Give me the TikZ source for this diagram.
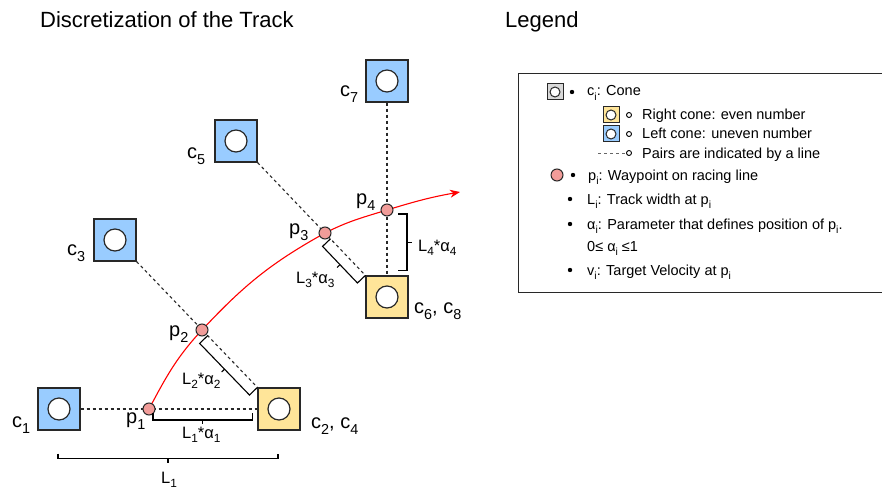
\documentclass[tikz,border=0pt]{standalone}
\usepackage{fontspec}
\setmainfont{Liberation Sans}
\usetikzlibrary{calc,arrows.meta}

\definecolor{leftcone}{RGB}{153,204,255}
\definecolor{rightcone}{RGB}{255,229,153}
\definecolor{waypt}{RGB}{241,156,153}
\definecolor{edge}{RGB}{40,40,40}

% index set lowered at about 70% size
\newcommand\idx[1]{\raisebox{-0.3em}{\scalebox{0.72}{#1}}}

\pgfdeclarelayer{bg}
\pgfsetlayers{bg,main}

\tikzset{
  cone/.style={rectangle, draw=edge, line width=1.2pt, minimum size=42pt, inner sep=0pt,
    path picture={\draw[fill=white, line width=1.2pt] (path picture bounding box.center) circle (11pt);}},
  minicone/.style={rectangle, draw=edge, line width=1pt, minimum size=16pt, inner sep=0pt,
    path picture={\draw[fill=white, line width=1pt] (path picture bounding box.center) circle (5pt);}},
  wp/.style={circle, draw=edge, fill=waypt, line width=1pt, minimum size=12pt, inner sep=0pt},
  pairline/.style={dashed, dash pattern=on 3pt off 3pt, line width=1.1pt, draw=edge},
  raceline/.style={draw=red, line width=1.1pt},
  brk/.style={draw=black, line width=1.1pt},
  ttl/.style={font=\fontsize{22}{26}\selectfont, inner sep=0pt, anchor=base west},
  lbl/.style={font=\fontsize{20}{24}\selectfont, inner sep=0pt, anchor=base west},
  dimlbl/.style={font=\fontsize{16.5}{20}\selectfont, inner sep=0pt, anchor=base west},
  leg/.style={font=\fontsize{14.5}{17}\selectfont, inner sep=0pt, anchor=base west},
  dotfull/.style={circle, fill=black, minimum size=4.4pt, inner sep=0pt},
  dotopen/.style={circle, draw=black, line width=0.9pt, minimum size=5pt, inner sep=0pt},
}

% bracket between two points on one side of a measured segment, with a centre tick
\newcommand\dimbracket[4]{%
  \draw[brk] (#1) -- ($(#1)!#3!-90:(#2)$) coordinate (bka) -- ($(#2)!#3!90:(#1)$) coordinate (bkb) -- (#2);
  \coordinate (bkm) at ($(bka)!0.5!(bkb)$);
  \draw[brk] (bkm) -- ($(bkm)!#4!-90:(bkb)$);
}

\begin{document}
\begin{tikzpicture}[x=1pt,y=-1pt]
\useasboundingbox (0,0) rectangle (882,489);

% titles
\node[ttl] (title) at (40,28) {Discretization of the Track};
\node[ttl] (legtitle) at (505,28) {Legend};

% cones
\node[cone, fill=leftcone]  (c1) at (59,409) {};
\node[cone, fill=rightcone] (c2) at (279,409) {};
\node[cone, fill=leftcone]  (c3) at (115,240) {};
\node[cone, fill=leftcone]  (c5) at (236,141) {};
\node[cone, fill=leftcone]  (c7) at (387,81) {};
\node[cone, fill=rightcone] (c6) at (387,297) {};

% waypoints
\node[wp] (p1) at (149,409) {};
\node[wp] (p2) at (202,330) {};
\node[wp] (p3) at (325,233) {};
\node[wp] (p4) at (387,210) {};
\coordinate (rlend) at (460,192);

\begin{pgfonlayer}{bg}
  \fill[white] (0,0) rectangle (882,489);
  % cone pairs
  \draw[pairline] (c1.east) -- (c2.west);
  \draw[pairline] (c3.south east) -- (c2.north west);
  \draw[pairline] (c5.south east) -- (c6.north west);
  \draw[pairline] (c7.south) -- (c6.north);
  % racing line
  \draw[raceline, -{Stealth[length=10pt,width=8pt]}]
    (p1.center) to[out=62,in=-133] (p2.center)
                to[out=47,in=-151] (p3.center)
                to[out=27,in=-163] (p4.center)
                to[out=17,in=-170] (rlend);
\end{pgfonlayer}

% cone labels
\node[lbl] (lc1) at (12,427) {c\idx{1}};
\node[lbl] (lc2) at (311,428) {c\idx{2}, c\idx{4}};
\node[lbl] (lc3) at (67,255) {c\idx{3}};
\node[lbl] (lc5) at (187,158) {c\idx{5}};
\node[lbl] (lc7) at (340,97) {c\idx{7}};
\node[lbl] (lc6) at (414,313) {c\idx{6}, c\idx{8}};

% waypoint labels
\node[lbl] (lp1) at (126,423) {p\idx{1}};
\node[lbl] (lp2) at (169,336) {p\idx{2}};
\node[lbl] (lp3) at (289,234) {p\idx{3}};
\node[lbl] (lp4) at (356,204) {p\idx{4}};

% width brackets
\coordinate (a1s) at ($(p1)+(4,4)$);
\coordinate (a1e) at ($(c2.west)+(-5,4)$);
\dimbracket{a1s}{a1e}{7pt}{4pt}
\node[dimlbl] (la1) at (182,438) {L\idx{1}*α\idx{1}};

\coordinate (w1s) at ($(c1.south)+(-1,23)$);
\coordinate (w1e) at ($(c2.south)+(-1,23)$);
\dimbracket{w1s}{w1e}{5pt}{4pt}
\node[dimlbl] (lw1) at (161,483) {L\idx{1}};

\coordinate (a2s) at ($(p2.center)!8pt!(c2.north west)$);
\dimbracket{a2s}{c2.north west}{11pt}{4pt}
\node[dimlbl] (la2) at (182,384) {L\idx{2}*α\idx{2}};

\coordinate (a3s) at ($(p3.center)!8pt!(c6.north west)$);
\dimbracket{a3s}{c6.north west}{11pt}{4pt}
\node[dimlbl] (la3) at (296,283) {L\idx{3}*α\idx{3}};

\coordinate (a4s) at ($(c6.north)+(11,-5)$);
\coordinate (a4e) at ($(p4)+(11,4)$);
\dimbracket{a4s}{a4e}{9pt}{5pt}
\node[dimlbl] (la4) at (418,251) {L\idx{4}*α\idx{4}};

% legend
\node[draw=edge, line width=1.2pt, minimum width=400pt, minimum height=219pt, anchor=north west, inner sep=0pt] (legend) at (518,73) {};

\node[minicone, fill=black!15] (gi) at (555,92) {};
\node[dotfull] (gb1) at (572,92) {};
\node[leg] (gt1) at (587,96) {c\idx{i}: Cone};

\node[minicone, fill=rightcone] (gr) at (611,115) {};
\node[dotopen] (gb2) at (629,115) {};
\node[leg] (gt2) at (642,120) {Right cone: even number};

\node[minicone, fill=leftcone] (gl) at (611,134) {};
\node[dotopen] (gb3) at (629,134) {};
\node[leg] (gt3) at (642,139) {Left cone: uneven number};

\coordinate (gds) at (598,153);
\node[dotopen] (gb4) at (629,153) {};
\draw[dashed, dash pattern=on 3pt off 3pt, line width=0.8pt, draw=black!60] (gds) -- (gb4.west);
\node[leg] (gt4) at (642,158) {Pairs are indicated by a line};

\node[wp, minimum size=12pt] (gw) at (557,175) {};
\node[dotfull] (gb5) at (573,175) {};
\node[leg] (gt5) at (588,180) {p\idx{i}: Waypoint on racing line};

\node[dotfull] (gb6) at (570,199) {};
\node[leg] (gt6) at (587,204) {L\idx{i}: Track width at p\idx{i}};

\node[dotfull] (gb7) at (570,224) {};
\node[leg] (gt7) at (587,229) {α\idx{i}: Parameter that defines position of p\idx{i}.};
\node[leg] (gt8) at (587,251) {0≤ α\idx{i} ≤1};

\node[dotfull] (gb9) at (570,270) {};
\node[leg] (gt9) at (587,275) {v\idx{i}: Target Velocity at p\idx{i}};
\end{tikzpicture}
\end{document}
